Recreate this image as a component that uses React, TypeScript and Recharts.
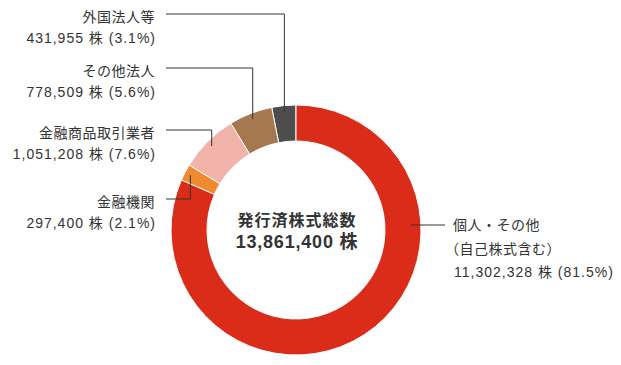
import React from "react";
import { PieChart, Pie, Cell } from "recharts";

const names = ["外国法人等", "その他法人", "金融商品取引業者", "金融機関", "個人・その他"];
const subNames = ["", "", "", "", "（自己株式含む）"];
const shares = [431955, 778509, 1051208, 297400, 11302328];
const colors = ["#4d4d4d", "#a67850", "#f2b3ab", "#ef8a2f", "#da2c18"];

const totalLabel = "発行済株式総数";
const total = shares.reduce((a, b) => a + b, 0);

const data = names.map((name, i) => ({ name, sub: subNames[i], value: shares[i] }));

// where each label sits: side of the ring + y of the leader line
const labelLayout = [
  { side: "left", lineY: 14 },
  { side: "left", lineY: 68 },
  { side: "left", lineY: 130 },
  { side: "left", lineY: 199 },
  { side: "right", lineY: 225 },
];

const CX = 296;
const CY = 230;
const INNER = 89;
const OUTER = 125;
const CJK = '"Noto Sans CJK JP", sans-serif';
const LATIN = '"Liberation Sans", Arial, "Noto Sans CJK JP", sans-serif';
const TEXT = "#333";

const fmt = (n: number) => n.toLocaleString("en-US");

const nameStyle = { fontSize: 14, letterSpacing: 0.5, fontFamily: CJK, fill: TEXT };
const valueStyle = { fontSize: 14, letterSpacing: 1, fontFamily: LATIN, fill: TEXT };

function renderLabel(props: any) {
  const { midAngle, index, value } = props;
  const lay = labelLayout[index];
  const pct = ((value / total) * 100).toFixed(1);
  const valueLine = `${fmt(value)} 株 (${pct}%)`;
  const RAD = Math.PI / 180;
  const r = OUTER - 6;

  if (lay.side === "left") {
    const ax = CX + r * Math.cos(-midAngle * RAD);
    const ay = CY + r * Math.sin(-midAngle * RAD);
    const tx = 155;
    return (
      <g key={`lbl-${index}`}>
        <path d={`M${ax},${ay}V${lay.lineY}H166`} stroke="#333" strokeWidth={1} fill="none" />
        <text x={tx} y={lay.lineY + 2} textAnchor="end" dominantBaseline="central" {...nameStyle}>
          {names[index]}
        </text>
        <text x={tx + 1} y={lay.lineY + 23.5} textAnchor="end" dominantBaseline="central" {...valueStyle}>
          {valueLine}
        </text>
      </g>
    );
  }

  const rr = OUTER - 10;
  const dy = lay.lineY - CY;
  const ax = CX + Math.sqrt(rr * rr - dy * dy);
  const tx = 453;
  return (
    <g key={`lbl-${index}`}>
      <path d={`M${ax},${lay.lineY}H445`} stroke="#333" strokeWidth={1} fill="none" />
      <text x={tx} y={lay.lineY - 1} textAnchor="start" dominantBaseline="central" {...nameStyle}>
        {names[index]}
      </text>
      <text x={tx - 8} y={lay.lineY + 23} textAnchor="start" dominantBaseline="central" {...nameStyle}>
        {subNames[index]}
      </text>
      <text x={tx + 1} y={lay.lineY + 47} textAnchor="start" dominantBaseline="central" {...valueStyle}>
        {valueLine}
      </text>
    </g>
  );
}

export default function App() {
  return (
    <div style={{ position: "absolute", left: 0, top: 0, width: 621, height: 365, background: "#fff" }}>
      <PieChart width={621} height={365} margin={{ top: 0, right: 0, bottom: 0, left: 0 }}>
        <Pie
          data={data}
          dataKey="value"
          nameKey="name"
          cx={CX}
          cy={CY}
          innerRadius={INNER}
          outerRadius={OUTER}
          startAngle={90}
          endAngle={450}
          stroke="#fff"
          strokeWidth={1}
          label={renderLabel}
          labelLine={false}
          isAnimationActive={false}
        >
          {data.map((d, i) => (
            <Cell key={d.name} fill={colors[i]} />
          ))}
        </Pie>
        <text x={CX + 1} y={219} textAnchor="middle" dominantBaseline="central" fontSize={16} letterSpacing={1} fontWeight="bold" fill={TEXT} fontFamily={CJK}>
          {totalLabel}
        </text>
        <text x={CX + 1} y={242} textAnchor="middle" dominantBaseline="central" fontSize={18} letterSpacing={0.8} fontWeight="bold" fill={TEXT} fontFamily={LATIN}>
          {`${fmt(total)} 株`}
        </text>
      </PieChart>
    </div>
  );
}
